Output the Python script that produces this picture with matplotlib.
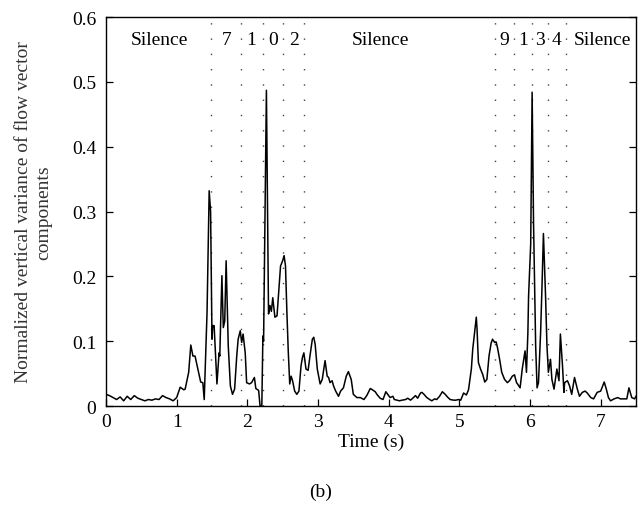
import matplotlib
matplotlib.use("Agg")
import matplotlib.pyplot as plt

plt.rcParams['font.family'] = ['Liberation Serif', 'DejaVu Serif']

time_s = [
    0.00, 0.05, 0.10, 0.15, 0.20, 0.25, 0.30, 0.35, 0.40, 0.45, 0.50, 0.55,
    0.60, 0.65, 0.70, 0.75, 0.80, 0.85, 0.90, 0.95, 1.00, 1.05, 1.10, 1.12,
    1.17, 1.20, 1.23, 1.26, 1.31, 1.34, 1.37, 1.39, 1.43, 1.46, 1.48, 1.50,
    1.51, 1.53, 1.57, 1.60, 1.61, 1.64, 1.66, 1.68, 1.70, 1.73, 1.76, 1.79,
    1.82, 1.85, 1.87, 1.90, 1.92, 1.94, 1.97, 1.99, 2.03, 2.06, 2.10, 2.12,
    2.16, 2.18, 2.205, 2.22, 2.23, 2.27, 2.30, 2.32, 2.34, 2.36, 2.39, 2.42,
    2.45, 2.47, 2.50, 2.52, 2.54, 2.56, 2.58, 2.60, 2.62, 2.64, 2.67, 2.70,
    2.73, 2.76, 2.78, 2.80, 2.83, 2.86, 2.89, 2.92, 2.94, 2.96, 2.99, 3.03,
    3.06, 3.09, 3.10, 3.13, 3.15, 3.17, 3.20, 3.22, 3.25, 3.29, 3.32, 3.36,
    3.40, 3.43, 3.47, 3.50, 3.55, 3.60, 3.65, 3.69, 3.74, 3.77, 3.81, 3.84,
    3.88, 3.92, 3.96, 3.98, 4.02, 4.06, 4.08, 4.12, 4.15, 4.19, 4.24, 4.27,
    4.31, 4.34, 4.38, 4.41, 4.45, 4.47, 4.50, 4.54, 4.58, 4.61, 4.65, 4.68,
    4.72, 4.76, 4.80, 4.84, 4.87, 4.92, 4.95, 4.99, 5.02, 5.06, 5.10, 5.13,
    5.17, 5.19, 5.21, 5.24, 5.25, 5.27, 5.30, 5.33, 5.36, 5.39, 5.42, 5.45,
    5.47, 5.50, 5.52, 5.54, 5.57, 5.60, 5.64, 5.68, 5.71, 5.75, 5.78, 5.81,
    5.83, 5.86, 5.89, 5.93, 5.95, 5.97, 5.98, 6.01, 6.03, 6.05, 6.08, 6.10,
    6.12, 6.15, 6.17, 6.19, 6.22, 6.24, 6.26, 6.29, 6.31, 6.34, 6.36, 6.38,
    6.41, 6.43, 6.46, 6.48, 6.49, 6.53, 6.56, 6.59, 6.61, 6.63, 6.67, 6.70,
    6.74, 6.78, 6.81, 6.86, 6.90, 6.95, 7.00, 7.05, 7.08, 7.11, 7.14, 7.19,
    7.24, 7.28, 7.33, 7.37, 7.40, 7.44, 7.48, 7.50,
]
variance = [
    0.018, 0.016, 0.013, 0.010, 0.014, 0.008, 0.015, 0.010, 0.016, 0.012, 0.010, 0.008,
    0.010, 0.009, 0.011, 0.010, 0.016, 0.013, 0.011, 0.008, 0.013, 0.029, 0.025, 0.026,
    0.052, 0.094, 0.077, 0.077, 0.052, 0.037, 0.036, 0.010, 0.145, 0.332, 0.300, 0.103,
    0.124, 0.124, 0.034, 0.082, 0.077, 0.201, 0.121, 0.131, 0.224, 0.093, 0.031, 0.018,
    0.026, 0.077, 0.103, 0.116, 0.098, 0.111, 0.082, 0.036, 0.034, 0.036, 0.044, 0.027,
    0.024, 0.000, 0.000, 0.108, 0.100, 0.487, 0.142, 0.155, 0.146, 0.167, 0.137, 0.139,
    0.185, 0.216, 0.224, 0.232, 0.216, 0.144, 0.082, 0.034, 0.046, 0.039, 0.023, 0.018,
    0.023, 0.062, 0.075, 0.082, 0.057, 0.055, 0.080, 0.103, 0.106, 0.095, 0.057, 0.034,
    0.041, 0.062, 0.070, 0.046, 0.044, 0.036, 0.039, 0.031, 0.023, 0.015, 0.023, 0.028,
    0.046, 0.053, 0.041, 0.018, 0.013, 0.013, 0.010, 0.016, 0.027, 0.025, 0.022, 0.017,
    0.012, 0.010, 0.022, 0.019, 0.013, 0.015, 0.010, 0.009, 0.008, 0.009, 0.010, 0.012,
    0.009, 0.012, 0.016, 0.012, 0.020, 0.021, 0.018, 0.013, 0.010, 0.008, 0.011, 0.010,
    0.015, 0.022, 0.018, 0.013, 0.010, 0.009, 0.009, 0.010, 0.009, 0.020, 0.017, 0.025,
    0.057, 0.088, 0.108, 0.137, 0.120, 0.067, 0.057, 0.049, 0.037, 0.041, 0.077, 0.097,
    0.103, 0.098, 0.099, 0.090, 0.072, 0.052, 0.041, 0.036, 0.039, 0.046, 0.048, 0.036,
    0.033, 0.028, 0.057, 0.085, 0.052, 0.113, 0.170, 0.250, 0.484, 0.283, 0.093, 0.028,
    0.036, 0.113, 0.185, 0.266, 0.170, 0.093, 0.052, 0.072, 0.041, 0.026, 0.041, 0.057,
    0.039, 0.111, 0.062, 0.021, 0.036, 0.039, 0.031, 0.018, 0.031, 0.044, 0.026, 0.015,
    0.021, 0.023, 0.020, 0.013, 0.011, 0.021, 0.023, 0.037, 0.026, 0.013, 0.008, 0.011,
    0.013, 0.011, 0.011, 0.011, 0.028, 0.013, 0.011, 0.015,
]

boundaries = [1.483, 1.912, 2.22, 2.51, 2.795, 5.50, 5.78, 6.03, 6.25, 6.51]
segment_labels = ["Silence", "7", "1", "0", "2", "Silence", "9", "1", "3", "4", "Silence"]
label_x = [0.76, 1.70, 2.06, 2.37, 2.66, 3.88, 5.63, 5.905, 6.14, 6.38, 7.03]
xticks = [0, 1, 2, 3, 4, 5, 6, 7]
yticks = [0, 0.1, 0.2, 0.3, 0.4, 0.5, 0.6]
ytick_labels = ["0", "0.1", "0.2", "0.3", "0.4", "0.5", "0.6"]

FS = 14

fig = plt.figure(figsize=(6.41, 5.10), dpi=100)
ax = fig.add_axes([106 / 641, 1 - 407 / 510, 530 / 641, 389 / 510])

for b in boundaries:
    ax.axvline(b, color='#444444', lw=1.0, linestyle=(0, (1, 10)), zorder=1)

ax.plot(time_s, variance, color='black', lw=1.1, zorder=3, clip_on=True)

for lx, lab in zip(label_x, segment_labels):
    ax.text(lx, 0.566, lab, ha='center', va='center', fontsize=FS, zorder=4)

ax.set_xlim(0, 7.5)
ax.set_ylim(0, 0.6)
ax.set_xticks(xticks)
ax.set_yticks(yticks)
ax.set_yticklabels(ytick_labels)
ax.tick_params(direction='in', length=5, width=0.9, labelsize=FS,
               right=True, top=False)
ax.tick_params(axis='y', pad=7)
ax.tick_params(axis='x', pad=5)
for s in ax.spines.values():
    s.set_linewidth(1.0)

ax.set_xlabel("Time (s)", fontsize=FS, labelpad=2)
ax.set_ylabel("Normalized vertical variance of flow vector\ncomponents",
              fontsize=FS, labelpad=14, color='#333333', linespacing=1.25)
fig.text(321 / 641, 1 - 492 / 510, "(b)", ha='center', va='center', fontsize=FS)

fig.savefig("out.png", dpi=100)
